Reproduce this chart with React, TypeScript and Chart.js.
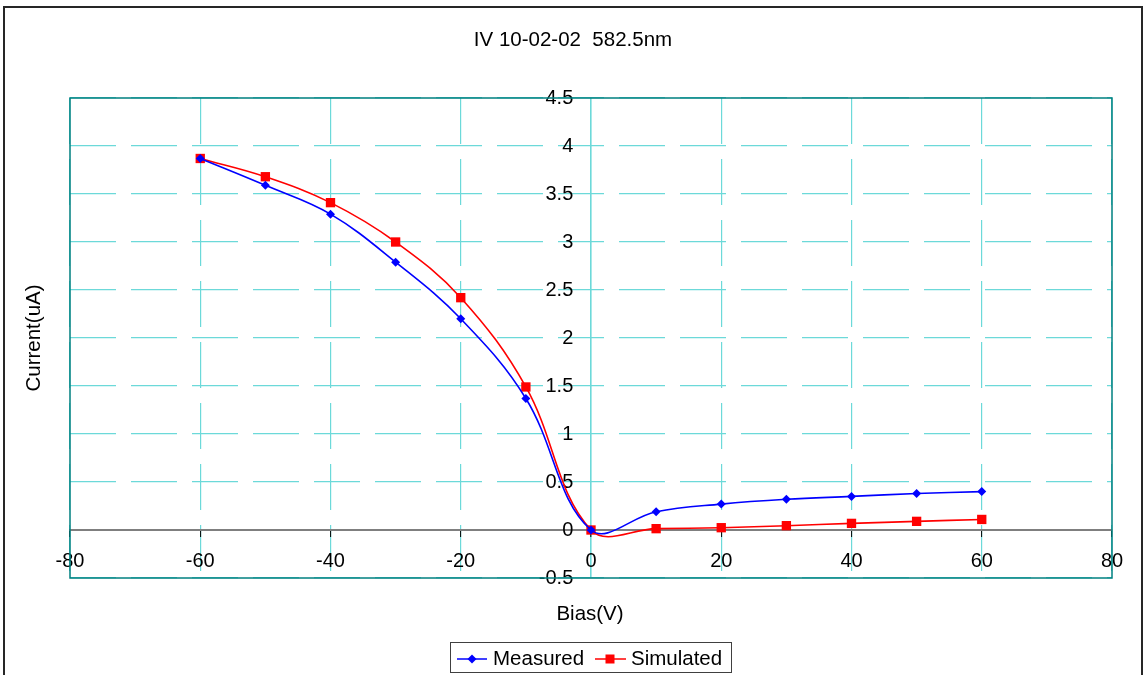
import React, { useEffect, useRef } from "react";
import { Chart, registerables } from "chart.js";

Chart.register(...registerables);

const chartTitle = "IV 10-02-02  582.5nm";
const xAxisTitle = "Bias(V)";
const yAxisTitle = "Current(uA)";
const seriesNames = ["Measured", "Simulated"];

const biasV = [-60, -50, -40, -30, -20, -10, 0, 10, 20, 30, 40, 50, 60];
const measured = [3.87, 3.59, 3.29, 2.79, 2.2, 1.37, 0.0, 0.19, 0.27, 0.32, 0.35, 0.38, 0.4];
const simulated = [3.87, 3.68, 3.41, 3.0, 2.42, 1.49, 0.0, 0.014, 0.024, 0.045, 0.069, 0.09, 0.11];

const xMin = -80;
const xMax = 80;
const xStep = 20;
const yMin = -0.5;
const yMax = 4.5;
const yStep = 0.5;

const FONT = "'Liberation Sans', Arial, sans-serif";
const W = 1145;
const H = 675;
const GRID = "#6cd9d9";

function drawDiamond(ctx: CanvasRenderingContext2D, x: number, y: number, r: number, color: string) {
  ctx.save();
  ctx.fillStyle = color;
  ctx.beginPath();
  ctx.moveTo(x - r, y);
  ctx.lineTo(x, y - r);
  ctx.lineTo(x + r, y);
  ctx.lineTo(x, y + r);
  ctx.closePath();
  ctx.fill();
  ctx.restore();
}

function drawSquare(ctx: CanvasRenderingContext2D, x: number, y: number, s: number, color: string) {
  ctx.save();
  ctx.fillStyle = color;
  ctx.fillRect(x - s / 2, y - s / 2, s, s);
  ctx.restore();
}

const decorPlugin = {
  id: "decor",
  beforeDatasetsDraw(chart: any) {
    const { ctx, chartArea } = chart;
    ctx.save();
    ctx.strokeStyle = "#008080";
    ctx.lineWidth = 1.5;
    ctx.strokeRect(chartArea.left, chartArea.top, chartArea.right - chartArea.left, chartArea.bottom - chartArea.top);
    ctx.restore();
  },
  afterDraw(chart: any) {
    const { ctx } = chart;
    ctx.save();
    ctx.strokeStyle = "#262626";
    ctx.lineWidth = 2;
    ctx.strokeRect(4, 7, 1138, 700);

    ctx.fillStyle = "#000";
    ctx.font = `20.5px ${FONT}`;
    ctx.textAlign = "center";
    ctx.textBaseline = "alphabetic";
    ctx.fillText(chartTitle, 573, 46);
    ctx.fillText(xAxisTitle, 590, 620);

    ctx.save();
    ctx.translate(40, 338);
    ctx.rotate(-Math.PI / 2);
    ctx.fillText(yAxisTitle, 0, 0);
    ctx.restore();

    ctx.strokeStyle = "#404040";
    ctx.lineWidth = 1;
    ctx.strokeRect(450.5, 642.5, 281, 30);
    ctx.textAlign = "left";
    ctx.lineWidth = 1.5;
    ctx.strokeStyle = "#0000FF";
    ctx.beginPath();
    ctx.moveTo(457, 659);
    ctx.lineTo(487, 659);
    ctx.stroke();
    drawDiamond(ctx, 472, 659, 4.5, "#0000FF");
    ctx.fillStyle = "#000";
    ctx.fillText(seriesNames[0], 493, 665);
    ctx.strokeStyle = "#FF0000";
    ctx.beginPath();
    ctx.moveTo(595, 659);
    ctx.lineTo(626, 659);
    ctx.stroke();
    drawSquare(ctx, 610, 659, 9, "#FF0000");
    ctx.fillStyle = "#000";
    ctx.fillText(seriesNames[1], 631, 665);
    ctx.restore();
  },
};

export default function App() {
  const canvasRef = useRef<HTMLCanvasElement | null>(null);

  useEffect(() => {
    const canvas = canvasRef.current;
    if (!canvas) return;
    const chart = new Chart(canvas, {
      type: "scatter",
      data: {
        datasets: [
          {
            label: seriesNames[0],
            data: biasV.map((x, i) => ({ x, y: measured[i] })),
            showLine: true,
            borderColor: "#0000FF",
            backgroundColor: "#0000FF",
            borderWidth: 1.6,
            pointStyle: "rectRot",
            pointRadius: 4.5,
            pointBorderWidth: 0,
            tension: 0.38,
          },
          {
            label: seriesNames[1],
            data: biasV.map((x, i) => ({ x, y: simulated[i] })),
            showLine: true,
            borderColor: "#FF0000",
            backgroundColor: "#FF0000",
            borderWidth: 1.6,
            pointStyle: "rect",
            pointRadius: 6.6,
            pointBorderWidth: 0,
            tension: 0.38,
          },
        ],
      },
      options: {
        responsive: false,
        animation: false,
        devicePixelRatio: 1,
        layout: { padding: { left: 70, right: 33, top: 98, bottom: 97 } },
        plugins: {
          legend: { display: false },
          title: { display: false },
          tooltip: { enabled: false },
        },
        scales: {
          x: {
            type: "linear",
            position: { y: 0 } as any,
            min: xMin,
            max: xMax,
            ticks: {
              stepSize: xStep,
              color: "#000",
              font: { family: FONT, size: 20 },
              padding: 13,
              maxRotation: 0,
              autoSkip: false,
            },
            grid: {
              color: GRID,
              lineWidth: (c: any) => (c.tick && c.tick.value === 0 ? 1.6 : 1.2),
              drawTicks: true,
              tickLength: 6,
              tickColor: "#000",
              tickWidth: 1,
              tickBorderDash: [],
            },
            border: {
              display: true,
              color: "#7f7f7f",
              width: 2,
              dash: (c: any) => (c.tick && c.tick.value === 0 ? [] : [46, 15]),
            } as any,
          },
          y: {
            type: "linear",
            position: { x: -2.72 } as any,
            min: yMin,
            max: yMax,
            ticks: {
              stepSize: yStep,
              color: "#000",
              font: { family: FONT, size: 20 },
              autoSkip: false,
              callback: (v: any) => String(+Number(v).toFixed(2)),
            },
            grid: {
              color: GRID,
              lineWidth: 1.2,
              drawTicks: false,
            },
            border: { display: false, dash: [46, 15] },
          },
        },
      },
      plugins: [decorPlugin],
    });
    return () => chart.destroy();
  }, []);

  return (
    <div style={{ position: "absolute", left: 0, top: 0, width: W, height: H, background: "#fff" }}>
      <canvas ref={canvasRef} width={W} height={H} style={{ display: "block", width: W, height: H }} />
    </div>
  );
}
